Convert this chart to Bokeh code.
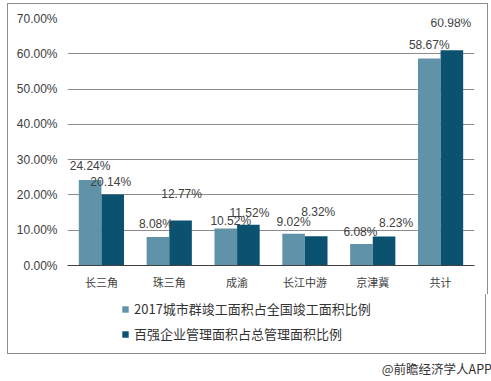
from bokeh.plotting import figure
from bokeh.models import (FactorRange, ColumnDataSource, Legend, LegendItem, Div,
                          PrintfTickFormatter, Range1d, FixedTicker)
from bokeh.layouts import column
from bokeh.transform import dodge
from bokeh.core.properties import value
from bokeh.embed import file_html
from bokeh.resources import INLINE

# ---- data ----
categories = ["长三角", "珠三角", "成渝", "长江中游", "京津冀", "共计"]
series1_name = "2017城市群竣工面积占全国竣工面积比例"
series2_name = "百强企业管理面积占总管理面积比例"
series1 = [24.24, 8.08, 10.52, 9.02, 6.08, 58.67]
series2 = [20.14, 12.77, 11.52, 8.32, 8.23, 60.98]
y_ticks = [0, 10, 20, 30, 40, 50, 60, 70]
footer = "@前瞻经济学人APP"

# ---- label placement (style, in screen pixels) ----
label1_dy = [14, 13, 7, 12, 12, 13]
label1_dx = [0, -2, 5, 0, -1, 0]
label2_dy = [12, 26, 12, 24, 13, 27]
label2_dx = [-2, 1, 1, 2, 12, -1]

c1 = "#6093a8"
c2 = "#0b5270"
cjk = "Noto Sans CJK SC"
lat = "Liberation Sans"
border = "1px solid #8c8c8c"

src = ColumnDataSource(dict(
    cat=categories, s1=series1, s2=series2,
    l1=[f"{v:.2f}%" for v in series1],
    l2=[f"{v:.2f}%" for v in series2],
    dy1=[-d for d in label1_dy], dx1=label1_dx,
    dy2=[-d for d in label2_dy], dx2=label2_dx,
))

p = figure(x_range=FactorRange(factors=categories), y_range=Range1d(0, 70),
           frame_width=405, frame_height=246,
           min_border_left=59, min_border_right=15, min_border_top=14, min_border_bottom=30,
           output_backend="svg", toolbar_location=None)

r1 = p.vbar(x=dodge("cat", -0.1667, range=p.x_range), top="s1", width=0.333,
            source=src, fill_color=c1, line_color=None)
r2 = p.vbar(x=dodge("cat", 0.1667, range=p.x_range), top="s2", width=0.333,
            source=src, fill_color=c2, line_color=None)

p.text(x=dodge("cat", -0.1667, range=p.x_range), y="s1", text="l1", source=src,
       text_align="center", text_baseline="middle", y_offset="dy1", x_offset="dx1",
       text_font=value(lat), text_font_size="12px", text_color="#404040")
p.text(x=dodge("cat", 0.1667, range=p.x_range), y="s2", text="l2", source=src,
       text_align="center", text_baseline="middle", y_offset="dy2", x_offset="dx2",
       text_font=value(lat), text_font_size="12px", text_color="#404040")

p.yaxis.ticker = FixedTicker(ticks=y_ticks)
p.yaxis.formatter = PrintfTickFormatter(format="%.2f%%")
p.yaxis.axis_line_color = None
p.yaxis.major_tick_line_color = None
p.yaxis.minor_tick_line_color = None
p.yaxis.major_tick_out = 0
p.yaxis.major_tick_in = 0
p.yaxis.major_label_standoff = 10
p.yaxis.major_label_text_font = lat
p.yaxis.major_label_text_font_size = "12px"
p.yaxis.major_label_text_color = "#404040"

p.xaxis.axis_line_color = "#404040"
p.xaxis.axis_line_width = 1
p.xaxis.major_tick_line_color = None
p.xaxis.minor_tick_line_color = None
p.xaxis.major_tick_out = 0
p.xaxis.major_tick_in = 0
p.xaxis.major_label_standoff = 8
p.xaxis.major_label_text_font = cjk
p.xaxis.major_label_text_font_size = "11px"
p.xaxis.major_label_text_color = "#404040"

p.xgrid.grid_line_color = None
p.ygrid.grid_line_color = "#8c8c8c"
p.ygrid.ticker = FixedTicker(ticks=y_ticks)
p.outline_line_color = None
p.background_fill_color = "white"
p.border_fill_color = "white"
p.styles = {"border": border, "border-bottom": "none"}

# ---- legend panel (proxy renderers of zero height, outside the view) ----
pl = figure(width=479, height=60, x_range=Range1d(0, 1), y_range=Range1d(0, 1),
            x_axis_location=None, y_axis_location=None, min_border=0,
            output_backend="svg", toolbar_location=None)
pl.grid.visible = False
pl.outline_line_color = None
pl.border_fill_color = "white"
proxy = ColumnDataSource(dict(x=[-5], top=[-5], bottom=[-5]))
d1 = pl.vbar(x="x", top="top", bottom="bottom", width=0.1, source=proxy,
             fill_color=c1, line_color=None)
d2 = pl.vbar(x="x", top="top", bottom="bottom", width=0.1, source=proxy,
             fill_color=c2, line_color=None)
legend = Legend(items=[LegendItem(label=series1_name, renderers=[d1]),
                       LegendItem(label=series2_name, renderers=[d2])],
                orientation="vertical", location=(54, 11),
                glyph_width=8, glyph_height=8, label_height=18, spacing=6,
                label_standoff=5, padding=0, margin=0,
                label_text_font=cjk, label_text_font_size="13px",
                label_text_color="#333333",
                border_line_color=None, background_fill_alpha=0)
pl.add_layout(legend, "center")
pl.styles = {"border": border, "border-top": "none"}

div = Div(text=footer, width=480, height=22,
          styles={"font-size": "12.5px", "font-family": cjk, "color": "#333333",
                  "text-align": "right", "padding-top": "1px"})

layout = column(p, pl, div, spacing=0)
layout.margin = (3, 0, 0, 7)
open("out.html", "w").write(file_html(layout, INLINE))
